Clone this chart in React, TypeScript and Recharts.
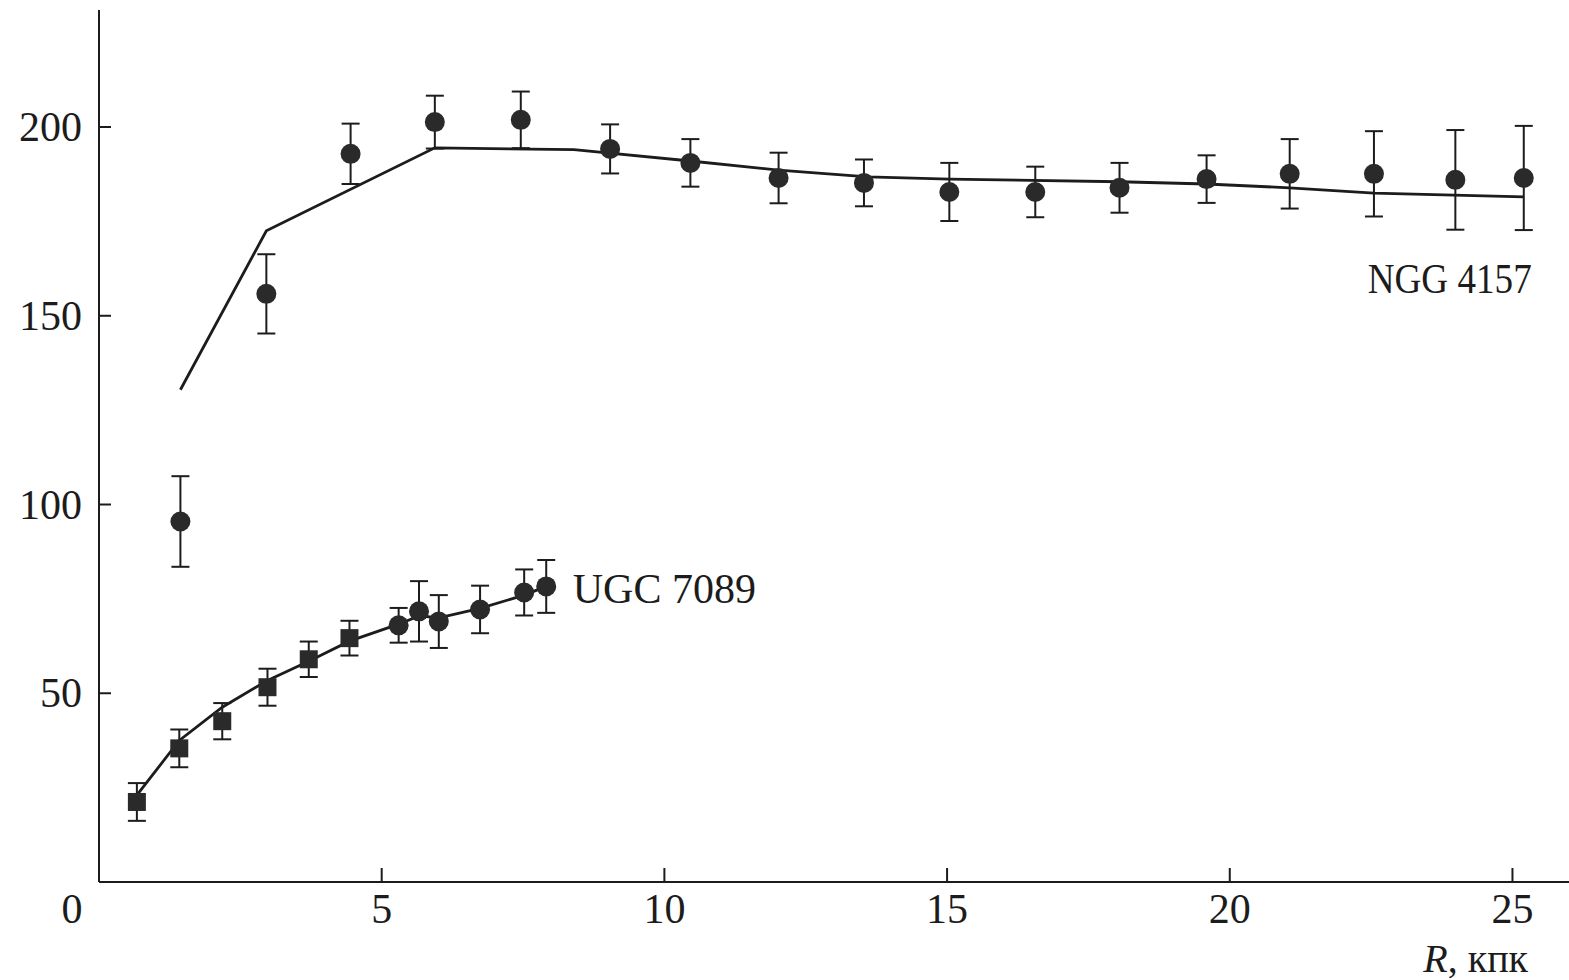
import React from 'react';
import { ComposedChart, Scatter, Line, XAxis, YAxis, ErrorBar, ReferenceDot } from 'recharts';

// NGC 4157 rotation curve: radius (kpc), velocity (km/s), error
const ngcR = [1.44, 2.96, 4.45, 5.94, 7.46, 9.04, 10.46, 12.02, 13.53, 15.04, 16.56, 18.05, 19.59, 21.06, 22.55, 23.99, 25.2];
const ngcV = [95.5, 155.8, 192.9, 201.3, 201.9, 194.2, 190.5, 186.5, 185.2, 182.8, 182.8, 183.9, 186.2, 187.6, 187.6, 186, 186.5];
const ngcErr = [12, 10.5, 8, 7, 7.5, 6.5, 6.3, 6.7, 6.2, 7.7, 6.7, 6.6, 6.3, 9.2, 11.3, 13.2, 13.8];

// NGC 4157 model curve
const ngcModelR = [1.44, 2.96, 5.94, 8.4, 10.46, 12.02, 13.6, 15.04, 18.05, 19.59, 21.06, 22.55, 25.2];
const ngcModelV = [130.4, 172.5, 194.5, 194, 191, 188.6, 186.8, 186.2, 185.5, 184.9, 183.9, 182.5, 181.5];

// UGC 7089: inner points (squares) and outer points (circles)
const ugcSqR = [0.67, 1.42, 2.18, 2.98, 3.71, 4.43];
const ugcSqV = [21.2, 35.4, 42.6, 51.6, 59, 64.6];
const ugcSqErr = [5, 5, 4.8, 4.9, 4.7, 4.6];

const ugcCiR = [5.3, 5.66, 6.01, 6.74, 7.52, 7.91];
const ugcCiV = [68, 71.7, 69, 72.2, 76.7, 78.3];
const ugcCiErr = [4.6, 8, 7, 6.3, 6.1, 7];

// UGC 7089 model curve
const ugcModelR = [0.67, 1.42, 2.18, 2.98, 3.71, 4.43, 5.3, 5.66, 6.01, 6.74, 7.52, 7.91];
const ugcModelV = [23, 37.5, 46.3, 53.4, 58.5, 63.8, 68.3, 70.5, 70, 72.5, 76, 78.3];

const xTicks = [0, 5, 10, 15, 20, 25];
const yTicks = [50, 100, 150, 200];

const rows = (r: number[], v: number[], e?: number[]) =>
  r.map((x, i) => ({ r: x, v: v[i], err: e ? e[i] : 0 }));

const ngcPts = rows(ngcR, ngcV, ngcErr);
const ngcModel = rows(ngcModelR, ngcModelV);
const ugcSq = rows(ugcSqR, ugcSqV, ugcSqErr);
const ugcCi = rows(ugcCiR, ugcCiV, ugcCiErr);
const ugcModel = rows(ugcModelR, ugcModelV);

const INK = '#1c1c1c';
const FONT = '"Liberation Serif", "Times New Roman", serif';

const CircleMark = (p: any) => <circle cx={p.cx} cy={p.cy} r={10} fill="#2a2a2a" />;
const SquareMark = (p: any) => <rect x={p.cx - 9} y={p.cy - 9} width={18} height={18} fill="#2a2a2a" />;

// ticks point into the plot area
const XTick = (p: any) => {
  const v = p.payload.value;
  if (v === 0) {
    return (
      <text x={p.x - 27} y={p.y + 41} textAnchor="middle" fontSize={42} fontFamily={FONT} fill={INK}>0</text>
    );
  }
  return (
    <g>
      <line x1={p.x} y1={p.y} x2={p.x} y2={p.y - 14} stroke={INK} strokeWidth={2} />
      <text x={p.x} y={p.y + 41} textAnchor="middle" fontSize={42} fontFamily={FONT} fill={INK}>{v}</text>
    </g>
  );
};

const YTick = (p: any) => (
  <g>
    <line x1={p.x} y1={p.y} x2={p.x + 12} y2={p.y} stroke={INK} strokeWidth={2} />
    <text x={p.x - 17} y={p.y + 14} textAnchor="end" fontSize={42} fontFamily={FONT} fill={INK}>{p.payload.value}</text>
  </g>
);

const nameLabel = (text: string, len?: number) => (props: any) => (
  <text
    x={props.viewBox.x}
    y={props.viewBox.y + 15}
    fontSize={42}
    fontFamily={FONT}
    fill={INK}
    textLength={len}
    lengthAdjust={len ? 'spacingAndGlyphs' : undefined}
  >
    {text}
  </text>
);

const AxisTitle = (props: any) => {
  const { x, y, width, height } = props.viewBox;
  return (
    <text x={x + width - 41} y={y + height - 8} textAnchor="end" fontSize={40} fontFamily={FONT} fill={INK}>
      <tspan fontStyle="italic">R</tspan>, кпк
    </text>
  );
};

export default function App() {
  return (
    <div style={{ position: 'absolute', left: 0, top: 0, background: '#fff' }}>
      <ComposedChart width={1569} height={980} margin={{ top: 10, right: 0, bottom: 0, left: 0 }}>
        <XAxis
          type="number"
          dataKey="r"
          domain={[0, 26]}
          ticks={xTicks}
          interval={0}
          height={98}
          tickSize={0}
          tickMargin={0}
          tickLine={false}
          axisLine={{ stroke: INK, strokeWidth: 2 }}
          tick={<XTick />}
          label={<AxisTitle />}
        />
        <YAxis
          type="number"
          dataKey="v"
          domain={[0, 231]}
          ticks={yTicks}
          interval={0}
          width={99}
          tickSize={0}
          tickMargin={0}
          tickLine={false}
          axisLine={{ stroke: INK, strokeWidth: 2 }}
          tick={<YTick />}
        />
        <Line data={ngcModel} dataKey="v" type="linear" stroke={INK} strokeWidth={2.8} dot={false} isAnimationActive={false} />
        <Line data={ugcModel} dataKey="v" type="linear" stroke={INK} strokeWidth={2.8} dot={false} isAnimationActive={false} />
        <Scatter data={ngcPts} dataKey="v" shape={CircleMark} isAnimationActive={false}>
          <ErrorBar dataKey="err" direction="y" width={9} stroke={INK} strokeWidth={2} />
        </Scatter>
        <Scatter data={ugcSq} dataKey="v" shape={SquareMark} isAnimationActive={false}>
          <ErrorBar dataKey="err" direction="y" width={9} stroke={INK} strokeWidth={2} />
        </Scatter>
        <Scatter data={ugcCi} dataKey="v" shape={CircleMark} isAnimationActive={false}>
          <ErrorBar dataKey="err" direction="y" width={9} stroke={INK} strokeWidth={2} />
        </Scatter>
        <ReferenceDot x={22.44} y={160} r={0} fill="none" stroke="none" label={nameLabel('NGG 4157', 164)} />
        <ReferenceDot x={8.38} y={77.9} r={0} fill="none" stroke="none" label={nameLabel('UGC 7089')} />
      </ComposedChart>
    </div>
  );
}
